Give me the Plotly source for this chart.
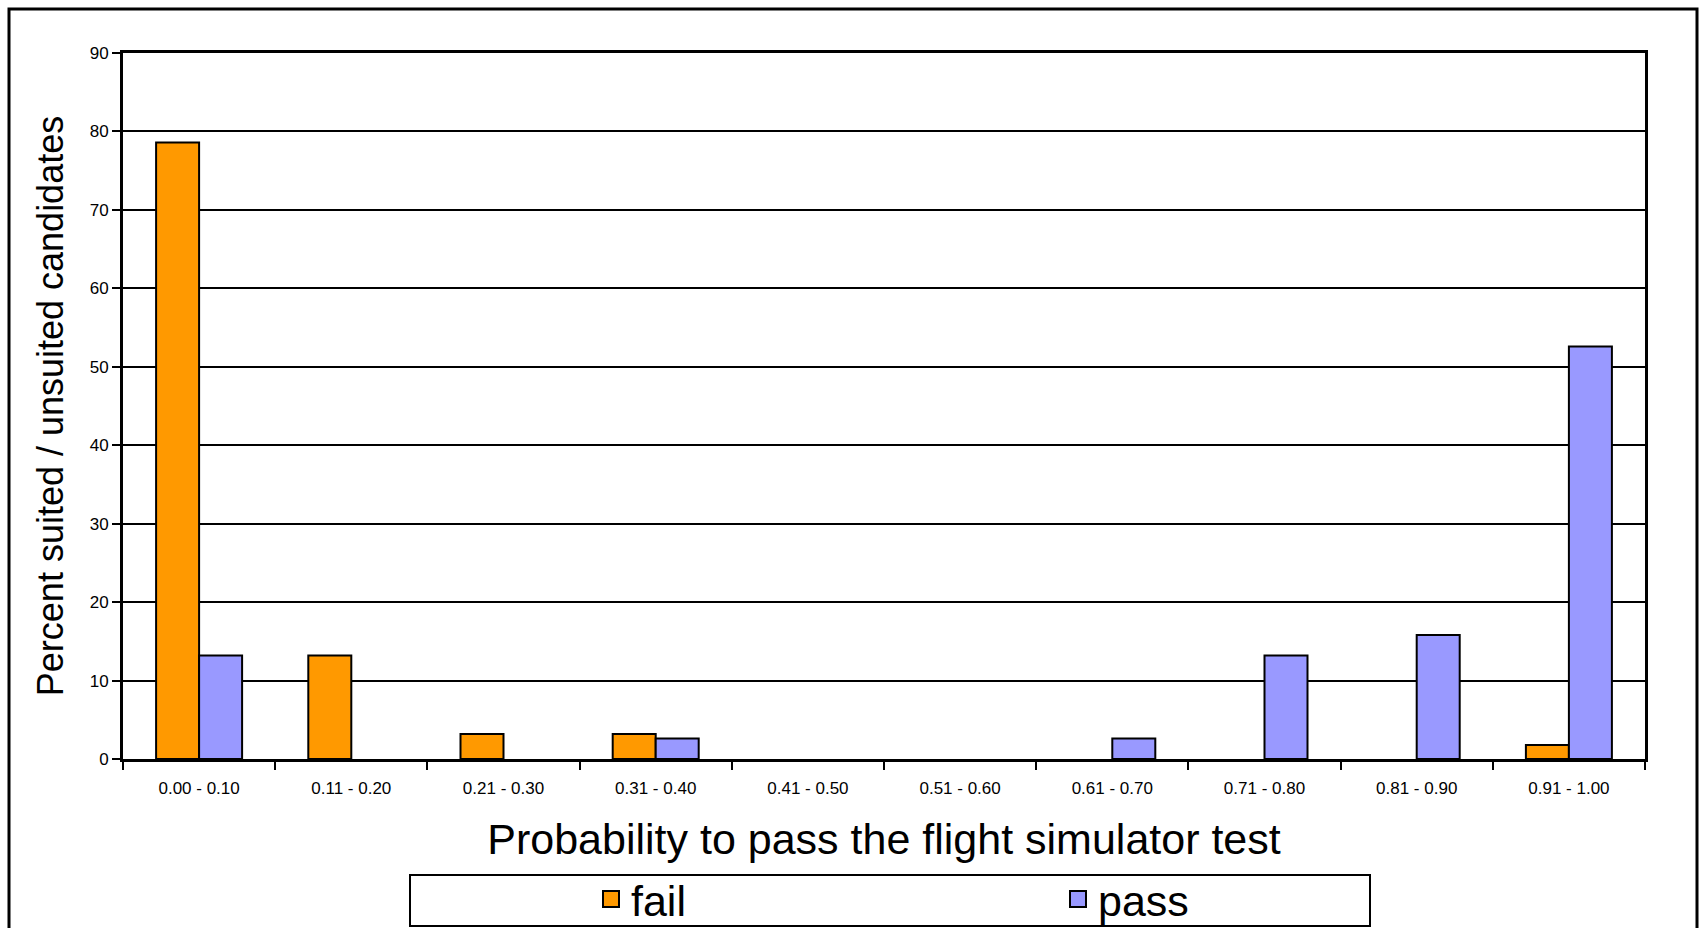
import plotly.graph_objects as go

categories = ["0.00 - 0.10", "0.11 - 0.20", "0.21 - 0.30", "0.31 - 0.40", "0.41 - 0.50",
              "0.51 - 0.60", "0.61 - 0.70", "0.71 - 0.80", "0.81 - 0.90", "0.91 - 1.00"]
fail_values = [78.6, 13.2, 3.2, 3.2, 0, 0, 0, 0, 0, 1.8]
pass_values = [13.2, 0, 0, 2.6, 0, 0, 2.6, 13.2, 15.8, 52.6]
y_ticks = [0, 10, 20, 30, 40, 50, 60, 70, 80, 90]
series_names = ["fail", "pass"]
series_colors = ["#FF9900", "#9999FF"]

FONT = "Liberation Sans, Arial, sans-serif"
W, H = 1700, 928
L, R, T, B = 123, 55, 53, 169
PW, PH = W - L - R, H - T - B


def px_to_paper_x(px):
    return (px - L) / PW


def px_to_paper_y(py):
    return (H - B - py) / PH


def hide_zero(vals):
    return [v if v else None for v in vals]


fig = go.Figure()
for name, vals, col in zip(series_names, [fail_values, pass_values], series_colors):
    fig.add_trace(go.Bar(name=name, x=categories, y=hide_zero(vals), showlegend=False,
                         legendgroup=name,
                         marker=dict(color=col, line=dict(color="black", width=2))))
# legend keys (larger square swatches, like the original)
for name, col in zip(series_names, series_colors):
    fig.add_trace(go.Scatter(name=name, x=[None], y=[None], mode="markers",
                             legendgroup=name, showlegend=True,
                             marker=dict(symbol="square", size=16, color=col,
                                         line=dict(color="black", width=2))))

fig.update_layout(
    width=W, height=H,
    margin=dict(l=L, r=R, t=T, b=B, autoexpand=False),
    paper_bgcolor="white", plot_bgcolor="white",
    barmode="group", bargap=0.435, bargroupgap=0,
    font=dict(family=FONT, color="black"),
    showlegend=True,
    legend=dict(orientation="h", x=px_to_paper_x(1058), xanchor="center",
                y=px_to_paper_y(899), yanchor="middle",
                font=dict(size=43, family=FONT, color="black"),
                entrywidth=422, entrywidthmode="pixels", itemsizing="trace",
                bgcolor="rgba(0,0,0,0)", traceorder="normal"),
    xaxis=dict(
        type="category", tickson="boundaries",
        ticks="outside", ticklen=8, tickwidth=2, tickcolor="black",
        showline=True, linecolor="black", linewidth=3, mirror=True,
        showgrid=False, automargin=False,
        ticklabelstandoff=12,
        tickfont=dict(size=17, family=FONT, color="black"),
        title=dict(text="Probability to pass the flight simulator test",
                   font=dict(size=43, family=FONT, color="black"), standoff=27),
    ),
    yaxis=dict(
        range=[0, 90], tickvals=y_ticks,
        ticks="outside", ticklen=8, tickwidth=2, tickcolor="black",
        showline=True, linecolor="black", linewidth=3, mirror=True,
        showgrid=True, gridcolor="black", gridwidth=2,
        zeroline=False, automargin=False,
        tickfont=dict(size=17, family=FONT, color="black"),
        title=dict(text="Percent suited / unsuited candidates",
                   font=dict(size=36, family=FONT, color="black"), standoff=16),
    ),
    shapes=[
        dict(type="rect", xref="paper", yref="paper",
             x0=px_to_paper_x(9), x1=px_to_paper_x(1697),
             y0=px_to_paper_y(940), y1=px_to_paper_y(9),
             line=dict(color="black", width=3), fillcolor="rgba(0,0,0,0)", layer="below"),
        dict(type="rect", xref="paper", yref="paper",
             x0=px_to_paper_x(410), x1=px_to_paper_x(1370),
             y0=px_to_paper_y(926), y1=px_to_paper_y(875),
             line=dict(color="black", width=2), fillcolor="rgba(0,0,0,0)"),
    ],
)

fig.write_html("out.html",
               post_script="document.body.style.margin='0';document.body.style.overflow='hidden';",
               config={"displayModeBar": False})
